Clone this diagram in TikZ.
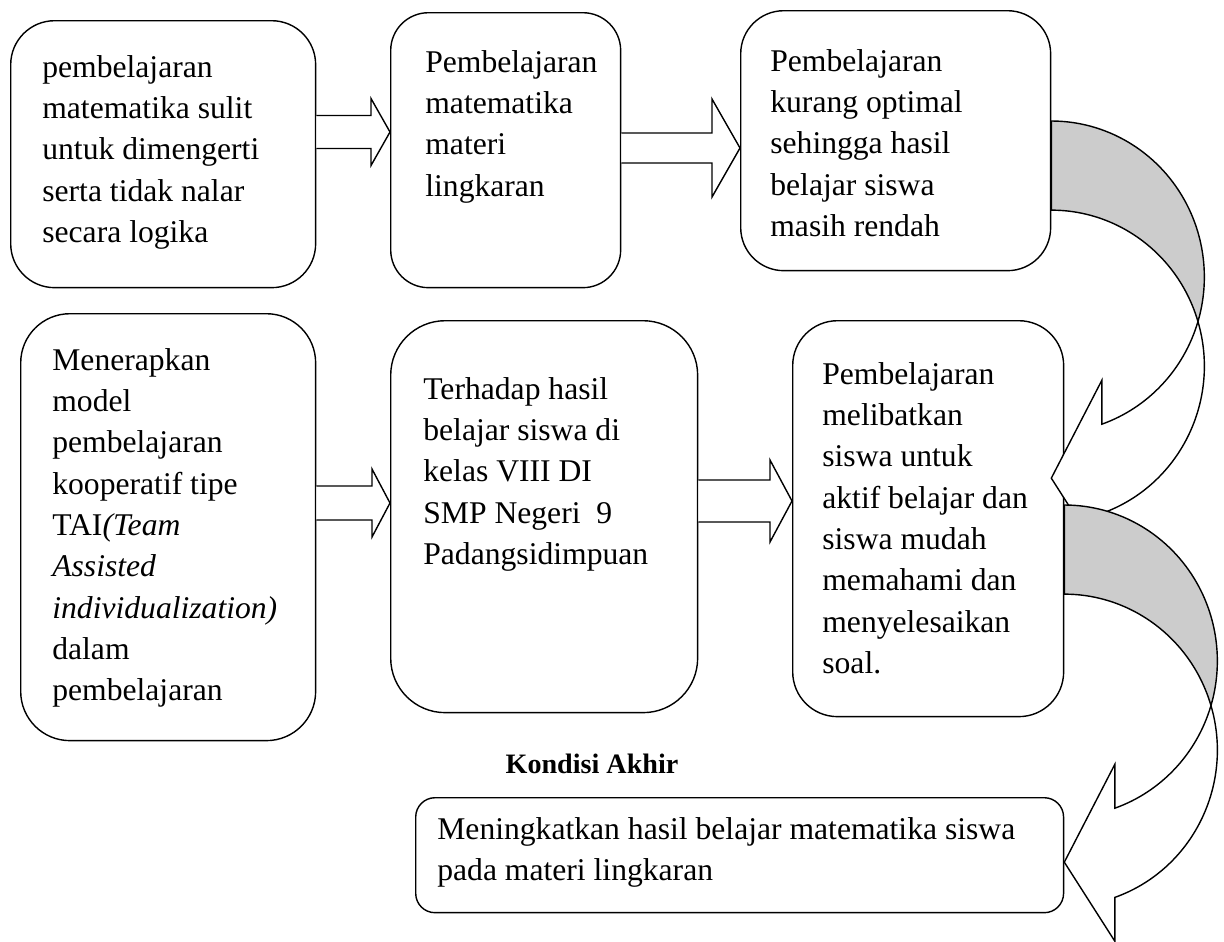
\documentclass[tikz,border=0pt]{standalone}
\usepackage{fontspec}
\setmainfont{Liberation Serif}
\usetikzlibrary{calc,positioning}

\tikzset{
  box/.style={draw, line width=0.8pt, rounded corners=#1, anchor=north west, inner sep=0pt},
  txt/.style={anchor=north west, inner sep=0pt, align=left, font=\fontsize{18}{23.5}\selectfont},
  fatarrow/.style={draw, line width=0.8pt, fill=white, line join=miter},
  backarrow/.style={draw, line width=0.8pt, fill=gray!40},
}

\begin{document}
\begin{tikzpicture}[x=0.02cm, y=0.02cm]
    \useasboundingbox (0,0) rectangle (1224,-941);

    % Upper row
    \node[box=25pt, minimum width=6.1cm, minimum height=5.34cm] (a) at (10,-20) {};
    \node[txt] (a-t) at ($(a.north west)+(32,-35)$) {pembelajaran\\ matematika sulit\\ untuk dimengerti\\ serta tidak nalar\\ secara logika};

    \node[box=21.5pt, minimum width=4.6cm, minimum height=5.5cm] (b) at (390,-12) {};
    \node[txt] (b-t) at ($(b.north west)+(35,-38)$) {Pembelajaran\\ matematika\\ materi\\ lingkaran};

    \node[box=24.5pt, minimum width=6.2cm, minimum height=5.2cm] (c) at (740,-10) {};
    \node[txt] (c-t) at ($(c.north west)+(30,-39)$) {Pembelajaran\\ kurang optimal\\ sehingga hasil\\ belajar siswa\\ masih rendah};

    % Lower row
    \node[box=28pt, minimum width=5.9cm, minimum height=8.54cm] (d) at (20,-313) {};
    \node[txt] (d-t) at ($(d.north west)+(32,-35)$) {Menerapkan\\ model\\ pembelajaran\\ kooperatif tipe\\ TAI\textit{(Team}\\ \textit{Assisted}\\ \textit{individualization)}\\ dalam\\ pembelajaran};

    \node[box=31pt, minimum width=6.14cm, minimum height=7.84cm] (e) at (390,-320) {};
    \node[txt] (e-t) at ($(e.north west)+(33,-57)$) {Terhadap hasil\\ belajar siswa di\\ kelas VIII DI\\ SMP Negeri\ \ 9\\ Padangsidimpuan};

    \node[box=25.5pt, minimum width=5.42cm, minimum height=7.92cm] (f) at (792,-320) {};
    \node[txt] (f-t) at ($(f.north west)+(30,-42)$) {Pembelajaran\\ melibatkan\\ siswa untuk\\ aktif belajar dan\\ siswa mudah\\ memahami dan\\ menyelesaikan\\ soal.};

    % Kondisi akhir
    \node[font=\bfseries\fontsize{16}{20}\selectfont] (kondisi) at (592,-764) {Kondisi Akhir};
    \node[box=11pt, minimum width=12.96cm, minimum height=2.3cm] (g) at (415,-797) {};
    \node[txt] (g-t) at ($(g.north west)+(22,-20)$) {Meningkatkan hasil belajar matematika siswa\\ pada materi lingkaran};

    % Block arrows
    \foreach \src/\dst/\yy/\w/\hh/\len in {a/b/132/16.5/33.5/19, b/c/148/15/49/28, d/e/503/17/34/18, e/f/501/21/41/22}{
        \coordinate (lvl) at (0,-\yy);
        \draw[fatarrow] ($(\src.east |- lvl)+(0,\w)$) -- ($(\dst.west |- lvl)+(-\len,\w)$)
            -- ($(\dst.west |- lvl)+(-\len,\hh)$) -- (\dst.west |- lvl)
            -- ($(\dst.west |- lvl)+(-\len,-\hh)$) -- ($(\dst.west |- lvl)+(-\len,-\w)$)
            -- ($(\src.east |- lvl)+(0,-\w)$);
    }

    % Curved arrows on the right
    \foreach \src/\dy in {c/111, f/185}{
        \coordinate (top) at ($(\src.north east)+(0,-\dy)$);
        \draw[backarrow] (top) arc[start angle=90, end angle=-16.6, x radius=153, y radius=156] coordinate (cross)
            arc[start angle=16.6, end angle=90, x radius=153, y radius=156] -- cycle;
        \draw[fatarrow] (cross) arc[start angle=16.6, end angle=-70.7, x radius=153, y radius=156]
            -- ++(0,-44) -- ++(-50.6,79.2) -- ++(50.6,98) -- ++(0,-44)
            arc[start angle=-70.7, end angle=-16.6, x radius=153, y radius=156] -- cycle;
    }
\end{tikzpicture}
\end{document}
